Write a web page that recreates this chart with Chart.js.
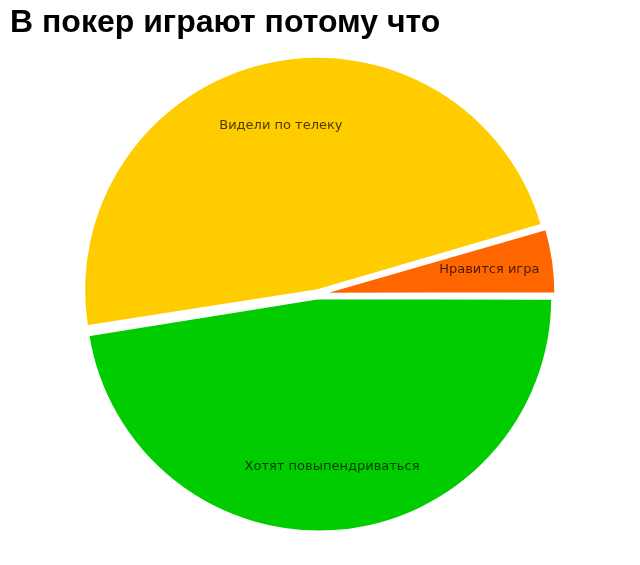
<!DOCTYPE html>
<html>
<head>
<meta charset="utf-8">
<script src="https://cdn.jsdelivr.net/npm/chart.js@4.4.0/dist/chart.umd.min.js"></script>
<style>
  html, body { margin: 0; padding: 0; background: #fff; }
  #wrap { width: 640px; height: 565px; }
</style>
</head>
<body>
<div id="wrap"><canvas id="myChart"></canvas></div>
<script>
const title = "В покер играют потому что"
const labels = ["Хотят повыпендриваться", "Видели по телеку", "Нравится игра"]
const values = [47.5, 48, 4.5]
const colors = ["#00cc00", "#ffcc00", "#ff6600"]

const ctx = document.querySelector("#myChart")

// draws the slice names inside the slices
const sliceLabels = {
  id: "sliceLabels",
  afterDatasetsDraw(chart) {
    const c = chart.ctx
    const arcs = chart.getDatasetMeta(0).data
    c.save()
    c.font = "13px 'DejaVu Sans'"
    c.fillStyle = "rgba(0, 0, 0, 0.72)"
    c.textAlign = "center"
    c.textBaseline = "middle"
    arcs.forEach((arc, i) => {
      const p = arc.getProps(["x", "y", "startAngle", "endAngle", "outerRadius"], true)
      const mid = (p.startAngle + p.endAngle) / 2
      const r = p.outerRadius * 0.75
      c.fillText(chart.data.labels[i], p.x + Math.cos(mid) * r, p.y + Math.sin(mid) * r)
    })
    c.restore()
  }
}

const data = {
  labels: labels,
  datasets: [{
    data: values,
    backgroundColor: colors,
    borderColor: "#fff",
    borderWidth: 2,
    offset: 16,
    hoverOffset: 0
  }]
}

const options = {
  responsive: true,
  maintainAspectRatio: false,
  animation: false,
  rotation: 90,
  radius: 230,
  layout: {
    padding: {left: 10, right: 13, top: 0, bottom: 27}
  },
  plugins: {
    legend: {display: false},
    tooltip: {enabled: false},
    title: {
      display: true,
      text: title,
      align: "start",
      color: "#000",
      font: {family: "'Liberation Sans', Arial, sans-serif", size: 32, weight: "bold", lineHeight: 1.2},
      padding: {top: 4, bottom: 8}
    }
  }
}

const chart = new Chart(ctx, {
  type: "pie",
  data: data,
  options: options,
  plugins: [sliceLabels]
})
</script>
</body>
</html>
